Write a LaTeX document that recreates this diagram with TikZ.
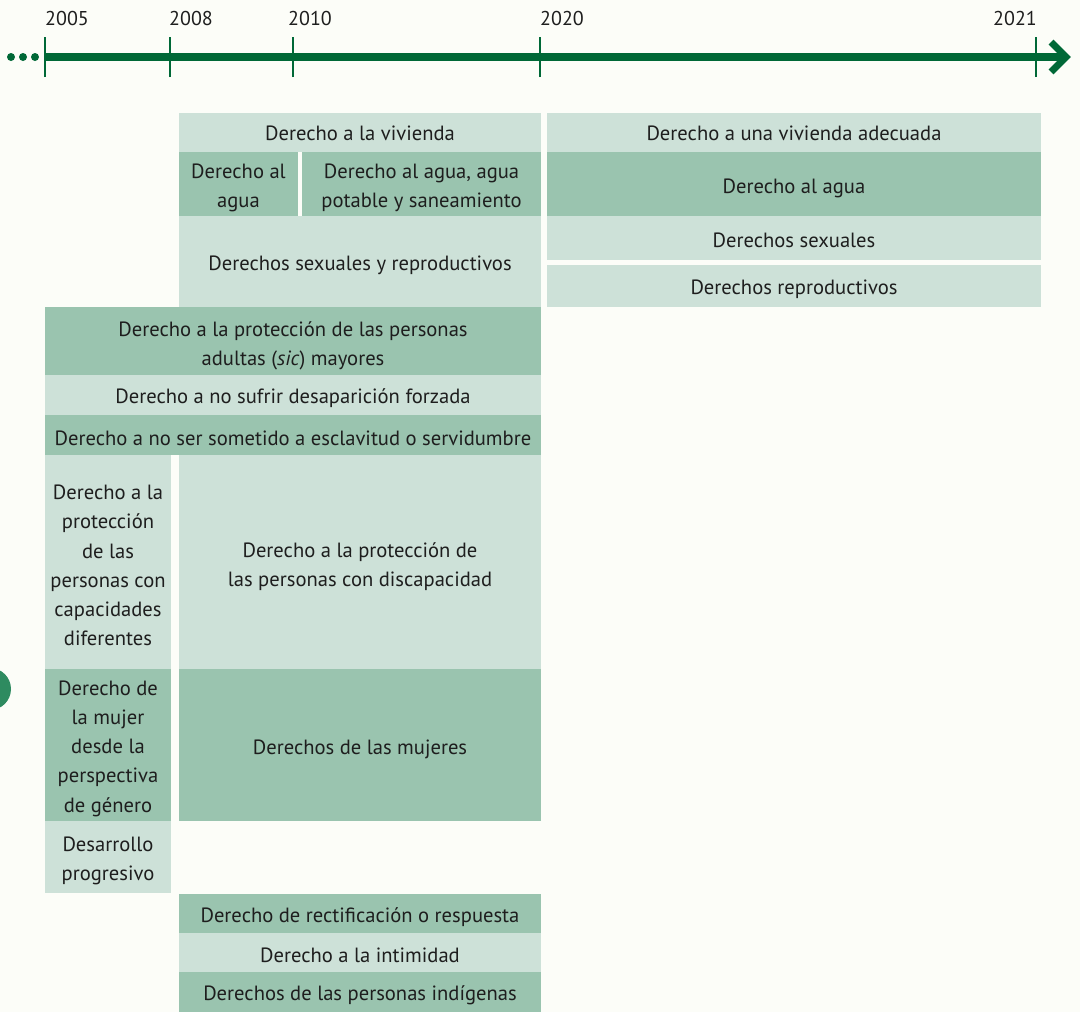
\documentclass[tikz,border=0pt]{standalone}
\usepackage{fontspec}
\setmainfont{PT Sans}
\definecolor{paper}{HTML}{FCFDF8}
\definecolor{lightc}{HTML}{CDE1D8}
\definecolor{darkc}{HTML}{9AC4AF}
\definecolor{lineg}{HTML}{006837}
\definecolor{dotg}{HTML}{2E8B60}
\definecolor{ink}{HTML}{1E1E1E}
\tikzset{
  cell/.style={rectangle, inner sep=0pt, outer sep=0pt, anchor=north west},
  lightcell/.style={cell, fill=lightc},
  darkcell/.style={cell, fill=darkc},
  celltext/.style={inner sep=0pt, align=center, text=ink,
    font=\fontsize{20.6}{29.2}\selectfont},
  year/.style={text=ink, font=\fontsize{20}{22}\selectfont, inner sep=0pt},
  tick/.style={draw=lineg, line width=2.6pt},
}
% \cellbox[text offset]{style}{name}{x1}{y1}{x2}{y2}{text}: filled box plus centred text
\newcommand{\cellbox}[8][-3.5pt]{%
  \node[#2, minimum width={(#6-#4)*1pt}, minimum height={(#7-#5)*1pt}]
    (#3) at (#4,#5) {};
  \node[celltext] (#3-text) at ([yshift=#1]#3.center) {#8};}
\begin{document}
\begin{tikzpicture}[x=1pt, y=-1pt]
\fill[paper] (0,0) rectangle (1080,1012);
\useasboundingbox (0,0) rectangle (1080,1012);

% timeline
\coordinate (y2005) at (45,57);
\coordinate (y2008) at (170,57);
\coordinate (y2010) at (293,57);
\coordinate (y2020) at (540,57);
\coordinate (y2021) at (1036,57);
\coordinate (tip) at (1066,57);
\draw[lineg, line width=8pt] (y2005) -- (tip);
\draw[lineg, line width=7pt, miter limit=4] ([shift={(-15,-15)}]tip) -- (tip) -- ([shift={(-15,15)}]tip);
\foreach \c in {y2005,y2008,y2010,y2020,y2021}
  \draw[tick] ([yshift=-20pt]\c) -- ([yshift=20pt]\c);
\foreach \x in {11,23,35}
  \fill[lineg] (\x,57) circle (4);
\node[year, anchor=base west] (l2005) at (45,25) {2005};
\node[year, anchor=base west] (l2008) at (169,25) {2008};
\node[year, anchor=base west] (l2010) at (288,25) {2010};
\node[year, anchor=base west] (l2020) at (540,25) {2020};
\node[year, anchor=base east] (l2021) at (1037,25) {2021};

% side marker
\fill[dotg] (-10,689) circle (21);

% 2008 / 2010 / 2020 rows
\cellbox[-0.5pt]{lightcell}{viv}{179}{113}{541}{152}{Derecho a la vivienda}
\cellbox[-0.5pt]{lightcell}{vivad}{547}{113}{1041}{152}{Derecho a una vivienda adecuada}
\cellbox{darkcell}{aguaA}{179}{152}{298}{216}{Derecho al\\agua}
\cellbox{darkcell}{aguaB}{302}{152}{541}{216}{Derecho al agua, agua\\potable y saneamiento}
\cellbox[-4.5pt]{darkcell}{aguaC}{547}{152}{1041}{216}{Derecho al agua}
\cellbox{lightcell}{sexrep}{179}{216}{541}{307}{Derechos sexuales y reproductivos}
\cellbox[-2.5pt]{lightcell}{sex}{547}{216}{1041}{260}{Derechos sexuales}
\cellbox{lightcell}{rep}{547}{265}{1041}{307}{Derechos reproductivos}

% 2005 rows
\cellbox[-5pt]{darkcell}{mayores}{45}{307}{541}{375}{Derecho a la protección de las personas\\adultas (\textit{sic}) mayores}
\cellbox{lightcell}{desap}{45}{375}{541}{415}{Derecho a no sufrir desaparición forzada}
\cellbox{darkcell}{escl}{45}{415}{541}{455}{Derecho a no ser sometido a esclavitud o servidumbre}
\cellbox{lightcell}{capdif}{45}{455}{171}{669}{Derecho a la\\protección\\de las\\personas con\\capacidades\\diferentes}
\cellbox[-4.5pt]{lightcell}{discap}{179}{455}{541}{669}{Derecho a la protección de\\las personas con discapacidad}
\cellbox{darkcell}{mujer}{45}{669}{171}{821}{Derecho de\\la mujer\\desde la\\perspectiva\\de género}
\cellbox[-4.5pt]{darkcell}{mujeres}{179}{669}{541}{821}{Derechos de las mujeres}
\cellbox{lightcell}{desprog}{45}{821}{171}{893}{Desarrollo\\progresivo}

% 2008 rows below
\cellbox{darkcell}{rectif}{179}{894}{541}{933}{Derecho de rectificación o respuesta}
\cellbox[-2.5pt]{lightcell}{intim}{179}{933}{541}{972}{Derecho a la intimidad}
\cellbox{darkcell}{indig}{179}{972}{541}{1012}{Derechos de las personas indígenas}
\end{tikzpicture}
\end{document}
